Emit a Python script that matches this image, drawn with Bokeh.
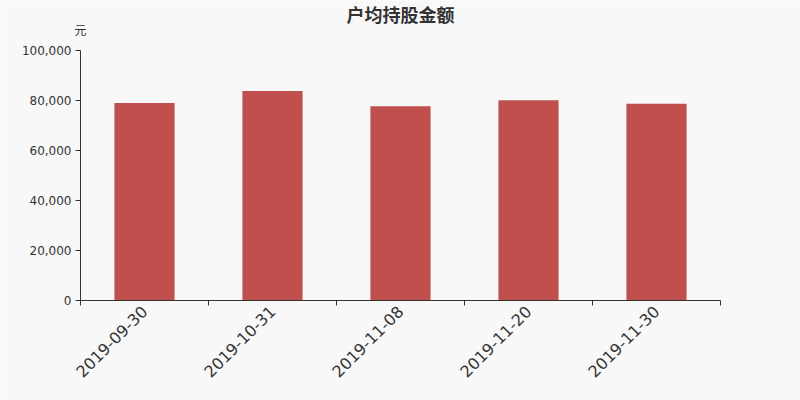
import math
from bokeh.plotting import figure
from bokeh.models import (ColumnDataSource, Range1d, LinearAxis, FixedTicker,
                          NumeralTickFormatter, Label)
from bokeh.embed import file_html
from bokeh.resources import INLINE

dates = ["2019-09-30", "2019-10-31", "2019-11-08", "2019-11-20", "2019-11-30"]
amounts = [79000, 83800, 77700, 80100, 78700]
y_ticks = [0, 20000, 40000, 60000, 80000, 100000]
title_text = "户均持股金额"
unit_text = "元"

BG = "#f8f8f8"
TXT = "#333333"
BAR = "#c0504d"

n = len(dates)
centers = [i + 0.5 for i in range(n)]
bounds = list(range(n + 1))

# the frame covers the whole canvas; axes are placed inside it at fixed locations
p = figure(width=800, height=400, output_backend="svg", toolbar_location=None, title=None,
           x_range=Range1d(-80 / 128, n + 80 / 128), y_range=Range1d(-40000, 120000),
           x_axis_location=None, y_axis_location=None,
           min_border=0, min_border_left=0, min_border_right=0, min_border_top=0, min_border_bottom=0)
p.background_fill_color = BG
p.border_fill_color = BG
p.outline_line_color = None
p.grid.visible = False

src = ColumnDataSource(dict(x=centers, date=dates, amount=amounts))
p.vbar(x="x", top="amount", width=0.47, source=src, fill_color=BAR, line_color=None)

# y axis
yax = LinearAxis(ticker=FixedTicker(ticks=y_ticks), formatter=NumeralTickFormatter(format="0,0"),
                 fixed_location=0, bounds=(y_ticks[0], y_ticks[-1]))
yax.axis_line_color = TXT
yax.major_tick_line_color = TXT
yax.major_tick_in = 0
yax.major_tick_out = 5
yax.minor_tick_line_color = None
yax.major_label_text_font = "DejaVu Sans"
yax.major_label_text_font_size = "12px"
yax.major_label_text_color = TXT
yax.major_label_standoff = 4
p.add_layout(yax, "left")

# x axis line with ticks at the category boundaries
tax = LinearAxis(ticker=FixedTicker(ticks=bounds), fixed_location=0, bounds=(bounds[0], bounds[-1]))
tax.major_label_overrides = {b: "" for b in bounds}
tax.major_label_text_font_size = "1px"
tax.axis_line_color = TXT
tax.major_tick_line_color = TXT
tax.major_tick_in = 0
tax.major_tick_out = 5
tax.minor_tick_line_color = None
p.add_layout(tax, "below")

# x category labels at the category centres
cax = LinearAxis(ticker=FixedTicker(ticks=centers), fixed_location=0)
cax.major_label_overrides = {c: d for c, d in zip(centers, dates)}
cax.axis_line_color = None
cax.major_tick_line_color = None
cax.major_tick_in = 0
cax.major_tick_out = 0
cax.minor_tick_line_color = None
cax.major_label_orientation = math.pi / 4
cax.major_label_text_font = "DejaVu Sans"
cax.major_label_text_font_size = "16px"
cax.major_label_text_color = TXT
cax.major_label_standoff = 8
p.add_layout(cax, "below")

p.add_layout(Label(x=n / 2, y=114800, text=title_text, text_align="center", text_baseline="middle",
                   text_font="Noto Sans CJK SC", text_font_size="18px", text_font_style="bold",
                   text_color=TXT))
p.add_layout(Label(x=0, y=108600, text=unit_text, text_align="center", text_baseline="middle",
                   text_font="Noto Sans CJK SC", text_font_size="12px", text_color=TXT))

open("out.html", "w").write(file_html(p, INLINE))
